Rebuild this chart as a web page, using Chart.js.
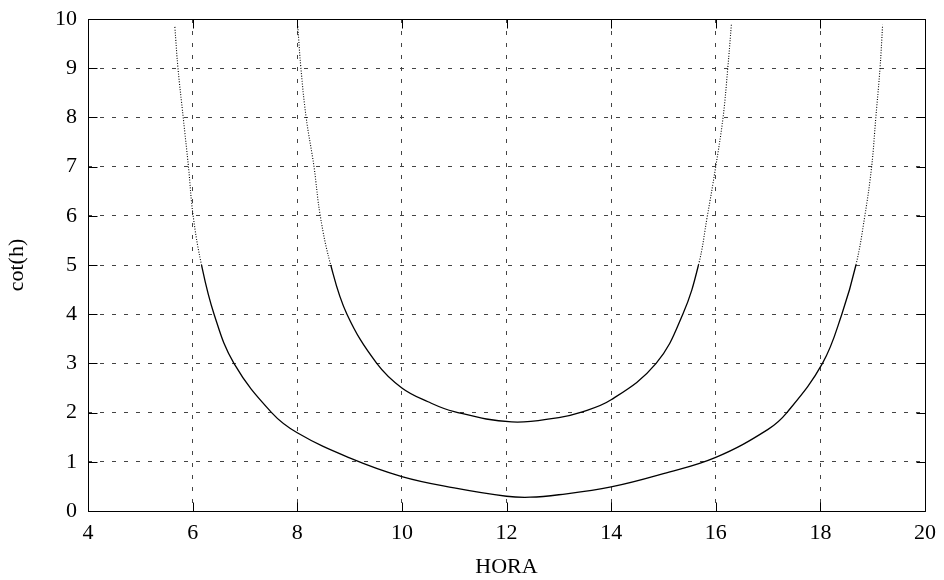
<!DOCTYPE html>
<html>
<head>
<meta charset="utf-8">
<script src="https://cdn.jsdelivr.net/npm/chart.js@4/dist/chart.umd.min.js"></script>
<style>
  html, body { margin: 0; padding: 0; background: #fff; }
  #wrap { width: 944px; height: 580px; }
</style>
</head>
<body>
<div id="wrap"><canvas id="c" width="944" height="580"></canvas></div>
<script>
// ---- data ----
const xTicks = [4, 6, 8, 10, 12, 14, 16, 18, 20];
const yTicks = [0, 1, 2, 3, 4, 5, 6, 7, 8, 9, 10];

const outerHora = [5.66, 5.72, 5.82, 5.92, 6.01, 6.17, 6.41, 6.79, 7.51, 8.0, 9.0, 10.0, 11.0, 12.0, 12.45, 13.0, 14.0, 15.0, 16.0, 17.0, 17.36, 18.04, 18.41, 18.68, 18.85, 18.98, 19.06, 19.14, 19.19];
const outerCot  = [9.84, 9.0, 8.0, 7.0, 6.0, 5.0, 4.0, 3.0, 2.0, 1.59, 1.08, 0.70, 0.47, 0.30, 0.28, 0.33, 0.49, 0.76, 1.09, 1.66, 2.0, 3.0, 4.0, 5.0, 6.0, 7.0, 8.0, 9.0, 9.88];

const innerHora = [8.01, 8.07, 8.17, 8.32, 8.44, 8.64, 8.95, 9.52, 10.0, 10.5, 11.0, 12.1, 13.0, 13.4, 14.0, 14.86, 15.37, 15.67, 15.84, 16.0, 16.14, 16.23, 16.30];
const innerCot  = [9.85, 9.0, 8.0, 7.0, 6.0, 5.0, 4.0, 3.0, 2.5, 2.22, 2.02, 1.81, 1.90, 2.0, 2.26, 3.0, 4.0, 5.0, 6.0, 7.0, 8.0, 9.0, 9.9];

const xTitle = 'HORA';
const yTitle = 'cot(h)';

const toPoints = (xs, ys) => xs.map((x, i) => ({ x: x, y: ys[i] }));

const FONT = '"Liberation Serif", "Times New Roman", serif';
const isSteep = ctx => ctx.p0.parsed.y > 4.3 && ctx.p1.parsed.y > 4.3;
const steepDash = ctx => isSteep(ctx) ? [1, 1.6] : undefined;
const steepW = ctx => isSteep(ctx) ? 1.1 : undefined;

const frame = {
  id: 'frame',
  afterDraw(chart) {
    const { ctx, chartArea: a, scales: { x, y } } = chart;
    ctx.save();
    ctx.strokeStyle = '#000';
    ctx.lineWidth = 1;
    ctx.setLineDash([]);
    const L = Math.round(a.left) + 0.5, R = Math.round(a.right) + 0.5;
    const T = Math.round(a.top) + 0.5, B = Math.round(a.bottom) + 0.5;
    ctx.beginPath();
    ctx.rect(L, T, R - L, B - T);
    ctx.stroke();
    const tl = 9;
    ctx.beginPath();
    xTicks.forEach(v => {
      const px = Math.round(x.getPixelForValue(v)) + 0.5;
      ctx.moveTo(px, B); ctx.lineTo(px, B - tl);
      ctx.moveTo(px, T); ctx.lineTo(px, T + tl);
    });
    yTicks.forEach(v => {
      const py = Math.round(y.getPixelForValue(v)) + 0.5;
      ctx.moveTo(L, py); ctx.lineTo(L + tl, py);
      ctx.moveTo(R, py); ctx.lineTo(R - tl, py);
    });
    ctx.stroke();
    ctx.restore();
  }
};

const lineDs = (xs, ys) => ({
  data: toPoints(xs, ys),
  showLine: true,
  borderColor: '#000',
  borderWidth: 1.3,
  pointRadius: 0,
  tension: 0.4,
  segment: { borderDash: steepDash, borderWidth: steepW }
});

new Chart(document.getElementById('c'), {
  type: 'scatter',
  data: {
    datasets: [ lineDs(outerHora, outerCot), lineDs(innerHora, innerCot) ]
  },
  options: {
    responsive: false,
    animation: false,
    layout: { padding: { top: 19, right: 19, left: 0, bottom: 0 } },
    plugins: { legend: { display: false }, tooltip: { enabled: false } },
    scales: {
      x: {
        type: 'linear',
        min: 4, max: 20,
        afterBuildTicks: s => { s.ticks = xTicks.map(v => ({ value: v })); },
        afterFit: s => { s.height = 69; s.paddingLeft = 0; s.paddingRight = 0; },
        grid: { color: '#444', lineWidth: 1, drawTicks: false },
        border: { display: false, dash: [4, 8] },
        ticks: { color: '#000', padding: 9, maxRotation: 0, font: { family: FONT, size: 22 } },
        title: { display: true, text: xTitle, color: '#000', padding: { top: 1, bottom: 0 }, font: { family: FONT, size: 22 } }
      },
      y: {
        type: 'linear',
        min: 0, max: 10,
        afterBuildTicks: s => { s.ticks = yTicks.map(v => ({ value: v })); },
        afterFit: s => { s.width = 88; s.paddingTop = 0; s.paddingBottom = 0; },
        grid: { color: '#444', lineWidth: 1, drawTicks: false },
        border: { display: false, dash: [4, 8] },
        ticks: { color: '#000', padding: 11, font: { family: FONT, size: 22 } },
        title: { display: true, text: yTitle, color: '#000', padding: { top: 4, bottom: 0 }, font: { family: FONT, size: 22 } }
      }
    }
  },
  plugins: [frame]
});
</script>
</body>
</html>
